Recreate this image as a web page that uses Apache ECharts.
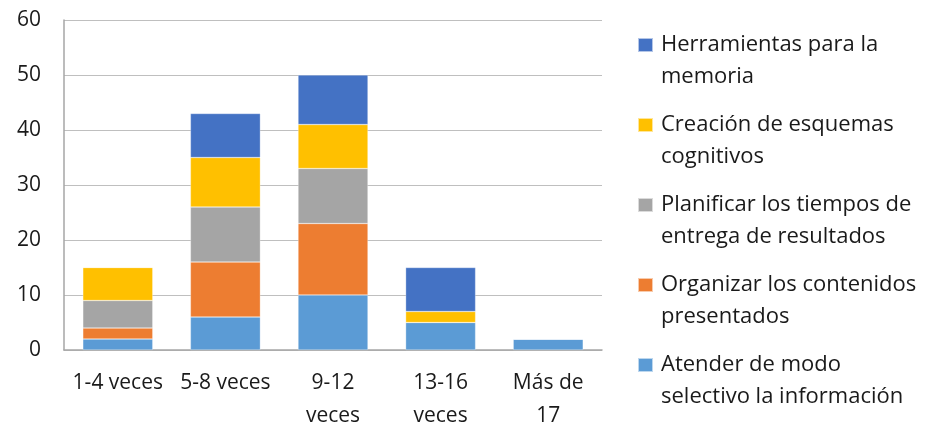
<!DOCTYPE html>
<html>
<head>
<meta charset="utf-8">
<script src="https://cdn.jsdelivr.net/npm/echarts@6/dist/echarts.min.js"></script>
<style>
  html, body { margin: 0; padding: 0; background: #fff; }
  #chart { width: 932px; height: 433px; }
</style>
</head>
<body>
<div id="chart"></div>
<script>
// categorias del eje x
const categorias = ['1-4 veces', '5-8 veces', '9-12\nveces', '13-16\nveces', 'Más de\n17'];

// valores de cada serie (apiladas, de abajo hacia arriba)
const atender      = [2, 6, 10, 5, 2];
const organizar    = [2, 10, 13, 0, 0];
const planificar   = [5, 10, 10, 0, 0];
const creacion     = [6, 9, 8, 2, 0];
const herramientas = [0, 8, 9, 8, 0];

const nombres = {
  atender: 'Atender de modo\nselectivo la información',
  organizar: 'Organizar los contenidos\npresentados',
  planificar: 'Planificar los tiempos de\nentrega de resultados',
  creacion: 'Creación de esquemas\ncognitivos',
  herramientas: 'Herramientas para la\nmemoria'
};

const fuente = '"Open Sans", sans-serif';

function serie(nombre, datos, color) {
  return {
    name: nombre,
    type: 'bar',
    stack: 'total',
    barCategoryGap: '35%',
    data: datos,
    itemStyle: { color: color, borderColor: 'rgba(255,255,255,0.6)', borderWidth: 0.5 }
  };
}

const chart = echarts.init(document.getElementById('chart'));
chart.setOption({
  animation: false,
  textStyle: { fontFamily: fuente },
  grid: { left: 64, right: 330, top: 20, bottom: 81 },
  legend: {
    orient: 'vertical',
    left: 637,
    top: -3,
    height: 440,
    padding: 0,
    itemWidth: 15,
    itemHeight: 14,
    itemGap: -16,
    icon: 'rect',
    // linea vacia arriba para que el icono quede junto a la primera linea
    formatter: function (n) { return ' \n' + n; },
    data: [nombres.herramientas, nombres.creacion, nombres.planificar, nombres.organizar, nombres.atender],
    textStyle: { fontFamily: fuente, fontSize: 22, color: '#1a1a1a', lineHeight: 32, padding: [0, 0, 0, 3] }
  },
  xAxis: {
    type: 'category',
    data: categorias,
    axisLine: { lineStyle: { color: '#a6a6a6', width: 1.5 } },
    axisTick: { show: false },
    axisLabel: { fontFamily: fuente, fontSize: 21, color: '#1a1a1a', lineHeight: 33, margin: 17, interval: 0 }
  },
  yAxis: {
    type: 'value',
    min: 0,
    max: 60,
    interval: 10,
    axisLine: { show: true, lineStyle: { color: '#a6a6a6', width: 1.5 } },
    splitLine: { lineStyle: { color: '#bfbfbf', width: 1.2 } },
    axisLabel: { fontFamily: fuente, fontSize: 21, color: '#1a1a1a', margin: 23 }
  },
  series: [
    serie(nombres.atender, atender, '#5B9BD5'),
    serie(nombres.organizar, organizar, '#ED7D31'),
    serie(nombres.planificar, planificar, '#A5A5A5'),
    serie(nombres.creacion, creacion, '#FFC000'),
    serie(nombres.herramientas, herramientas, '#4472C4')
  ]
});
</script>
</body>
</html>
